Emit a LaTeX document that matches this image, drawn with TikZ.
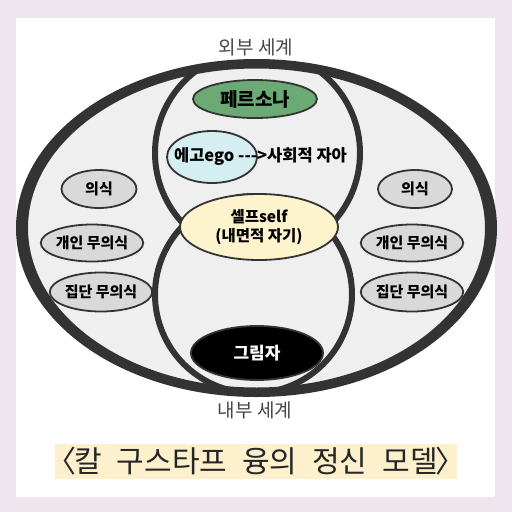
\documentclass[tikz,border=0pt]{standalone}
\usepackage{fontspec}
\setmainfont{Noto Sans CJK KR}
\usetikzlibrary{shapes.geometric}
\definecolor{frame}{HTML}{EEE5EF}
\definecolor{inside}{HTML}{EFEFEF}
\definecolor{ring}{HTML}{333333}
\definecolor{persona}{HTML}{6BAA75}
\definecolor{egoblue}{HTML}{D5EEF1}
\definecolor{selfcream}{HTML}{FDF3CD}
\definecolor{layer}{HTML}{D9D9D9}
\definecolor{hilite}{HTML}{FCF1CC}
\newcommand\titlegap{\hspace{0.5em}}
\begin{document}
\begin{tikzpicture}[x=1pt,y=-1pt,
	blob/.style={ellipse,draw=ring,line width=1.8pt,inner sep=0pt,font=\bfseries\fontsize{15.5}{18}\selectfont},
	layerblob/.style={blob,fill=layer,minimum height=38pt,font=\bfseries\fontsize{15}{17}\selectfont},
	world/.style={text=ring!90,font=\fontsize{19}{21}\selectfont}]
	\useasboundingbox (0,0) rectangle (512,512);
	\fill [frame] (0,0) rectangle (512,512);
	\fill [white] (16,18) rectangle (495,497);
	
	% big ellipse and the two circles
	\fill [inside] (256.5,228) ellipse [x radius=229,y radius=160];
	\begin{scope}
		\clip (256.5,228) ellipse [x radius=229,y radius=160];
		\draw [ring,line width=6pt] (257.5,153) circle [radius=102.5];
		\draw [ring,line width=6pt] (253.5,294.5) circle [radius=98.5];
	\end{scope}
	\fill [ring,even odd rule] (256.5,228) ellipse [x radius=240.5,y radius=169]
		(256.5,228) ellipse [x radius=228.5,y radius=159.5];
	
	% middle column
	\node (persona) [blob,fill=persona,minimum width=124pt,minimum height=38pt,font=\bfseries\fontsize{19}{21}\selectfont] at (255,99) {페르소나};
	\node (ego) [blob,fill=egoblue,minimum width=90pt,minimum height=52pt] at (212,157) {};
	\node (egotext) [font=\bfseries\fontsize{16.5}{18}\selectfont] at (260.5,157) {에고ego -{}-{}->사회적 자아};
	\node (self) [blob,fill=selfcream,minimum width=158pt,minimum height=66pt,align=center] at (259,227) {셀프self\\[1pt](내면적 자기)};
	\node (shadow) [blob,fill=black,text=white,minimum width=132pt,minimum height=54pt,font=\bfseries\fontsize{17}{19}\selectfont] at (257,353) {그림자};
	
	% left side
	\node (lconsc) [layerblob,minimum width=75pt] at (99,189) {의식};
	\node (lpers) [layerblob,minimum width=90pt,minimum height=37pt] at (92,243) {개인 무의식};
	\node (lcoll) [layerblob,minimum width=92pt,minimum height=39pt] at (101,292) {집단 무의식};
	
	% right side
	\node (rconsc) [layerblob,minimum width=74pt] at (415,189) {의식};
	\node (rpers) [layerblob,minimum width=93pt,minimum height=37pt] at (412,243) {개인 무의식};
	\node (rcoll) [layerblob,minimum width=90pt,minimum height=39pt] at (412,292) {집단 무의식};
	
	\node (outer) [world] at (256,47) {외부 세계};
	\node (inner) [world] at (255,410) {내부 세계};
	
	\node (title) [fill=hilite,minimum width=402pt,minimum height=35pt,inner sep=0pt,text=black!85,font=\fontsize{30}{32}\selectfont] at (256,461.5)
		{\kern-0.5em〈\kern-0.08em 칼\titlegap 구스타프\titlegap 융의\titlegap 정신\titlegap 모델\kern-0.08em〉\kern-0.5em};
\end{tikzpicture}
\end{document}
